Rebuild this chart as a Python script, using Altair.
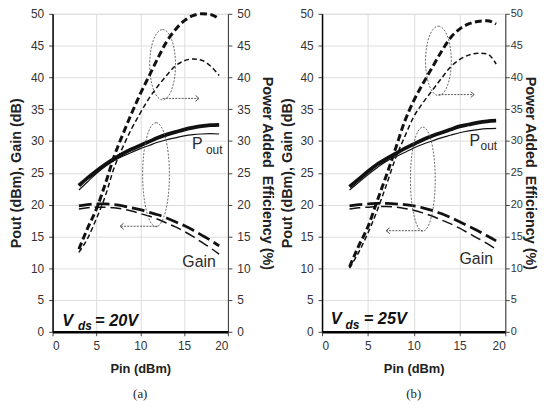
import altair as alt
import pandas as pd

# ---------------- data ----------------
pin = [3, 4, 5, 6, 7, 8, 9, 10, 11, 12, 13, 14, 15, 16, 17, 18, 19]

# panel (a) Vds = 20 V
pout_thick_a = [23.0, 24.2, 25.3, 26.3, 27.2, 28.0, 28.7, 29.3, 29.9, 30.5, 31.0, 31.4, 31.8, 32.1, 32.35, 32.5, 32.55]
pout_thin_a = [22.3, 23.6, 24.9, 26.0, 26.9, 27.6, 28.2, 28.8, 29.3, 29.8, 30.2, 30.5, 30.8, 31.0, 31.1, 31.15, 31.1]
gain_thick_a = [19.8, 20.0, 20.1, 20.1, 20.0, 19.8, 19.5, 19.2, 18.8, 18.4, 17.9, 17.3, 16.7, 16.0, 15.2, 14.4, 13.5]
gain_thin_a = [19.3, 19.5, 19.6, 19.6, 19.5, 19.3, 19.0, 18.6, 18.2, 17.7, 17.1, 16.5, 15.8, 15.0, 14.1, 13.2, 12.2]
pae_thick_a = [13.0, 16.3, 19.3, 23.2, 27.5, 31.0, 34.3, 37.4, 40.2, 43.0, 45.6, 47.5, 48.9, 49.7, 50.0, 49.9, 49.2]
pae_thin_a = [12.5, 14.7, 17.8, 21.3, 25.7, 29.0, 31.9, 34.4, 36.7, 38.6, 40.3, 41.8, 42.6, 42.9, 42.7, 41.8, 40.3]

# panel (b) Vds = 25 V
pout_thick_b = [22.8, 24.0, 25.2, 26.3, 27.2, 28.0, 28.8, 29.5, 30.2, 30.8, 31.3, 31.8, 32.3, 32.6, 32.9, 33.1, 33.2]
pout_thin_b = [22.3, 23.5, 24.7, 25.8, 26.8, 27.5, 28.2, 28.9, 29.5, 30.0, 30.5, 30.9, 31.3, 31.6, 31.8, 31.95, 32.0]
gain_thick_b = [19.8, 20.0, 20.1, 20.2, 20.2, 20.1, 20.0, 19.8, 19.5, 19.1, 18.6, 18.0, 17.3, 16.6, 15.9, 15.1, 14.3]
gain_thin_b = [19.3, 19.5, 19.6, 19.7, 19.7, 19.6, 19.4, 19.1, 18.7, 18.2, 17.6, 17.0, 16.3, 15.5, 14.7, 13.9, 13.0]
pae_thick_b = [10.2, 13.5, 16.5, 20.5, 24.5, 28.7, 33.0, 36.3, 39.0, 41.5, 44.0, 46.2, 47.6, 48.4, 48.8, 48.9, 48.4]
pae_thin_b = [10.0, 12.5, 15.5, 19.0, 23.0, 27.2, 30.6, 33.8, 36.0, 37.9, 39.8, 41.6, 42.8, 43.5, 43.8, 43.7, 42.1]

# annotations: ellipse centres (data units), arrows, text anchors
ell_a = [(12.55, 42.0), (11.8, 24.7)]
arrows_a = [(12.55, 16.7, 36.7), (12.0, 7.7, 16.6)]
ell_b = [(12.7, 42.6), (11.0, 24.0)]
arrows_b = [(12.7, 16.6, 37.3), (11.0, 7.0, 15.9)]
pout_lbl_a = (15.9, 28.7, 17.5, 28.0)
pout_lbl_b = (16.1, 29.2, 17.3, 28.6)
gain_lbl_a = (14.8, 10.2)
gain_lbl_b = (15.0, 10.7)
vds_a = (1.1, 0.95, 2.9, 0.25, 4.85, "= 20V")
vds_b = (0.95, 1.2, 2.55, 0.5, 4.55, "= 25V")

FONT = "Liberation Sans"
LINE = "#111111"
ANN = "#555555"
TXT = "#2a2a2a"


def ellipse_path(r):
    k = 0.5523
    return (f"M 0 -1 C {k*r:.4f} -1 {r:.4f} {-k:.4f} {r:.4f} 0 "
            f"C {r:.4f} {k:.4f} {k*r:.4f} 1 0 1 "
            f"C {-k*r:.4f} 1 {-r:.4f} {k:.4f} {-r:.4f} 0 "
            f"C {-r:.4f} {-k:.4f} {-k*r:.4f} -1 0 -1 Z")


HEAD_R = "M -1 -0.85 L 0 0 L -1 0.85"
HEAD_L = "M 1 -0.85 L 0 0 L 1 0.85"


def panel(series, ells, ell_sizes, arrows, pout_lbl, gain_lbl, vds, tag, width, height,
          left_tp, right_lp, right_tp, right_lfs):
    xs = alt.Scale(domain=[0, 20], nice=False)
    ys = alt.Scale(domain=[0, 50], nice=False)
    xaxis = alt.Axis(values=[0, 5, 10, 15, 20], title="Pin (dBm)", tickSize=4, labelPadding=5,
                     labelFontSize=12, titleFontSize=13, titlePadding=11, domainWidth=2.5,
                     domainColor="#000000", tickColor="#444444", labelColor="#333333",
                     titleColor="#222222", titleFontWeight="bold")
    lax = alt.Axis(orient="left", values=list(range(0, 55, 5)), title="Pout (dBm), Gain (dB)",
                   tickSize=4, labelPadding=5, labelFontSize=12, titleFontSize=14.5,
                   titlePadding=left_tp, domainWidth=1.5, domainColor="#000000",
                   tickColor="#444444", labelColor="#333333", titleColor="#222222",
                   titleFontWeight="bold")
    rax = alt.Axis(orient="right", values=list(range(0, 55, 5)),
                   title="Power Added\u00a0 Efficiency (%)", tickSize=4, labelPadding=right_lp,
                   labelFontSize=right_lfs, titleFontSize=14.5, titlePadding=right_tp,
                   domainWidth=1, domainColor="#333333", tickColor="#444444",
                   labelColor="#333333", titleColor="#222222", titleFontWeight="bold")

    def X(f="x"):
        return alt.X(f"{f}:Q", scale=xs, axis=xaxis)

    def YL(f="y"):
        return alt.Y(f"{f}:Q", scale=ys, axis=lax)

    def YR(f="y"):
        return alt.Y(f"{f}:Q", scale=ys, axis=rax)

    def line(vals, width_, dash, yenc):
        df = pd.DataFrame({"x": pin, "y": vals})
        kw = dict(color=LINE, strokeWidth=width_, interpolate="monotone", clip=False)
        if dash:
            kw["strokeDash"] = dash
        return alt.Chart(df).mark_line(**kw).encode(x=X(), y=yenc())

    def label(xx, yy, tt, **kw):
        df = pd.DataFrame({"x": [xx], "y": [yy], "t": [tt]})
        return alt.Chart(df).mark_text(align="left", baseline="alphabetic", font=FONT,
                                       **kw).encode(x=X(), y=YL(), text="t:N")

    left_layers = [
        line(series["pout_thick"], 3.8, None, YL),
        line(series["pout_thin"], 1.2, None, YL),
        line(series["gain_thick"], 2.8, [13, 5], YL),
        line(series["gain_thin"], 1.5, [11, 5], YL),
    ]
    # ellipses
    for (cx, cy), (w, h) in zip(ells, ell_sizes):
        df = pd.DataFrame({"x": [cx], "y": [cy]})
        left_layers.append(alt.Chart(df).mark_point(
            shape=ellipse_path(w / h), size=h * h, filled=False, stroke=ANN,
            strokeWidth=0.9, strokeDash=[2, 1.5], opacity=1).encode(x=X(), y=YL()))
    # arrows
    for (x1, x2, yy) in arrows:
        df = pd.DataFrame({"x": [x1], "x2": [x2], "y": [yy]})
        left_layers.append(alt.Chart(df).mark_rule(
            color=ANN, strokeWidth=1, strokeDash=[2, 1.2]).encode(
            x=X(), x2="x2:Q", y=YL()))
        dh = pd.DataFrame({"x": [x2], "y": [yy]})
        left_layers.append(alt.Chart(dh).mark_point(
            shape=HEAD_R if x2 > x1 else HEAD_L, size=49, filled=False, stroke=ANN,
            strokeWidth=1, opacity=1).encode(x=X(), y=YL()))
    # labels
    px, py, ox, oy = pout_lbl
    left_layers.append(label(px, py, "P", fontSize=16, fill=TXT))
    left_layers.append(label(ox, oy, "out", fontSize=12, fill=TXT))
    gx, gy = gain_lbl
    left_layers.append(label(gx, gy, "Gain", fontSize=16, fill=TXT))
    vx, vy, dx_, dy_, ex, et = vds
    for xx, yy, tt, fs in [(vx, vy, "V", 16.5), (dx_, dy_, "ds", 12), (ex, vy, et, 16.5)]:
        left_layers.append(label(xx, yy, tt, fontSize=fs, fontWeight="bold",
                                 fontStyle="italic", fill="#111111"))

    right_layers = [
        line(series["pae_thick"], 3.0, [7, 3.5], YR),
        line(series["pae_thin"], 1.5, [5, 3], YR),
    ]
    left = alt.layer(*left_layers)
    right = alt.layer(*right_layers)
    return alt.layer(left, right).resolve_scale(y="independent").properties(
        width=width, height=height,
        title=alt.TitleParams(tag, orient="bottom", font="Liberation Serif", fontSize=13,
                              fontWeight="normal", color="#222222", offset=13, anchor="middle"))


sa = dict(pout_thick=pout_thick_a, pout_thin=pout_thin_a, gain_thick=gain_thick_a,
          gain_thin=gain_thin_a, pae_thick=pae_thick_a, pae_thin=pae_thin_a)
sb = dict(pout_thick=pout_thick_b, pout_thin=pout_thin_b, gain_thick=gain_thick_b,
          gain_thin=gain_thin_b, pae_thick=pae_thick_b, pae_thin=pae_thin_b)

pa = panel(sa, ell_a, [(26, 71), (27, 105)], arrows_a, pout_lbl_a, gain_lbl_a, vds_a, "(a)",
           177, 321, 7, 5, 10, 12)
pb = panel(sb, ell_b, [(26, 70), (25, 105)], arrows_b, pout_lbl_b, gain_lbl_b, vds_b, "(b)",
           185, 321, 5, 1, 0, 11)

chart = alt.hconcat(pa, pb, spacing=4).properties(
    padding={"left": 0, "top": -3, "right": 0, "bottom": 0}
).configure_view(strokeWidth=0).configure_axis(
    grid=False, labelFont=FONT, titleFont=FONT
).configure(background="white")

chart.save("out.html", embed_options={"renderer": "svg", "actions": False})
